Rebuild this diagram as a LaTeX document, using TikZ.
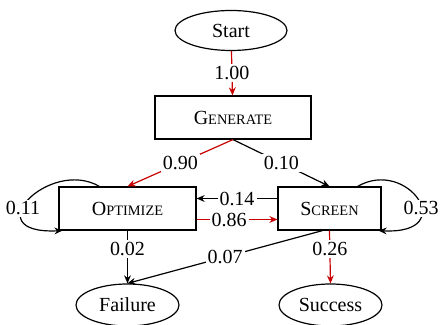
\documentclass[tikz,border=0pt]{standalone}
\usepackage{fontspec}
\setmainfont{Liberation Serif}
\usepackage{xcolor}
\usetikzlibrary{shapes.geometric, arrows.meta, positioning, calc}
\definecolor{pathred}{RGB}{200,0,0}

% small caps made by hand
\newcommand{\smcap}[2]{#1{\fontsize{7.2pt}{8pt}\selectfont #2}}

\begin{document}
\begin{tikzpicture}[
    x=0.5pt, y=-0.5pt,
    terminal/.style={ellipse, draw, line width=0.6pt, minimum height=20pt, inner sep=0pt, font=\fontsize{10pt}{12pt}\selectfont},
    stage/.style={rectangle, draw, line width=0.6pt, minimum height=21.5pt, inner sep=0pt, font=\fontsize{10pt}{12pt}\selectfont},
    lbl/.style={fill=white, text=black, inner sep=1pt, font=\fontsize{10pt}{12pt}\selectfont},
    arrow/.style={-{Stealth[length=4pt, width=3.4pt]}, line width=0.6pt},
    hot/.style={arrow, pathred}
]
\useasboundingbox (0,0) rectangle (440,325);

% Ends
\node[terminal, minimum width=56pt] (start) at (231,30.5) {Start};
\node[terminal, minimum width=51.5pt, minimum height=21pt] (fail) at (127.5,305) {Failure};
\node[terminal, minimum width=51.5pt, minimum height=21pt] (succ) at (330.5,305) {Success};

% Stages
\node[stage, minimum width=78pt] (gen) at (233,117.5) {\smcap{G}{ENERATE}};
\node[stage, minimum width=68.5pt] (opt) at (127.5,208.5) {\smcap{O}{PTIMIZE}};
\node[stage, minimum width=51.5pt] (scr) at (329.5,208.5) {\smcap{S}{CREEN}};

% Arrows
\draw[hot] (start) -- node[lbl] {1.00} (gen);
\draw[hot] (gen.south) -- node[lbl] {0.90} (opt.north);
\draw[arrow] (gen.south) -- node[lbl] {0.10} (scr.north);
\draw[arrow] ([yshift=5pt]scr.west) -- node[lbl] {0.14} ([yshift=5pt]opt.east);
\draw[hot] ([yshift=-5.5pt]opt.east) -- node[lbl, xshift=-4pt] {0.86} ([yshift=-5.5pt]scr.west);
\draw[arrow] (opt.south) -- node[lbl, pos=0.35] {0.02} (fail.north);
\draw[arrow] ([xshift=-3.5pt]scr.south) -- node[lbl] {0.07} (fail.north);
\draw[hot] (scr.south) -- node[lbl, pos=0.35] {0.26} (succ.north);

% Self loops
\draw[arrow] ([xshift=20.5pt]opt.north west) .. controls +(-50,-29) and +(-88,4) .. node[lbl, pos=0.6] {0.11} ([xshift=2pt]opt.south west);
\draw[arrow] ([xshift=-12pt]scr.north east) .. controls +(50,-29) and +(82,4) .. node[lbl, pos=0.6] {0.53} ([xshift=-1.5pt]scr.south east);

\end{tikzpicture}
\end{document}
